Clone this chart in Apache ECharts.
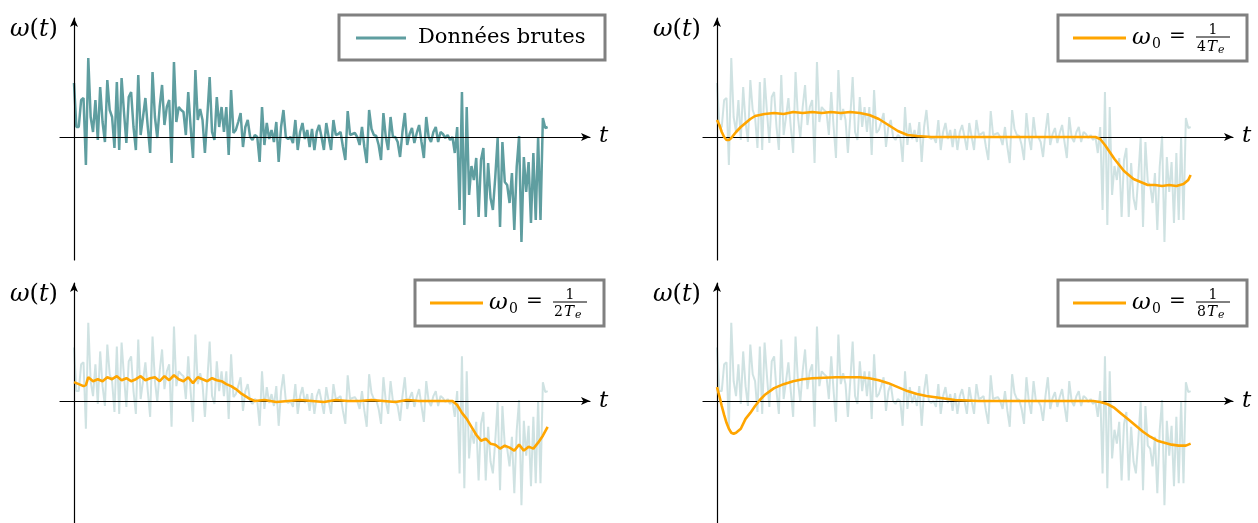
<!DOCTYPE html>
<html><head><meta charset="utf-8">
<script src="https://cdn.jsdelivr.net/npm/echarts@6/dist/echarts.min.js"></script>
<style>html,body{margin:0;padding:0;background:#fff}#c{width:1258px;height:523px}</style>
</head><body><div id="c"></div>
<script>
// raw angular velocity samples (arbitrary units), sample index 0..199
const rawOmega = [
 54, 10, 10, 37, 39, -28, 79, 20, 5, 37,
 -3, 50, 15, -5, 57, 27, 20, -11, 55, -13,
 59, 25, -6, 40, 45, 10, -13, 62, 2, 20,
 39, 10, -16, 65, 20, -1, 30, 52, 12, 30,
 37, -26, 75, 15, 30, 27, 25, 2, 45, 10,
 -21, 67, 17, 28, 17, -16, 20, 60, 5, -3,
 40, 10, 30, 5, 30, -18, 47, 4, 7, 15,
 24, -10, 10, 17, 0, -3, 2, 0, -25, 30,
 -8, 14, -2, 7, -5, 15, -25, 10, 27, 0,
 -2, 0, -6, 17, -13, 5, 14, -2, 7, -10,
 8, -13, 5, 12, 0, -13, 14, 0, -13, 17,
 2, 3, 5, -10, -23, 26, 2, 3, 4, 0,
 -8, 10, -10, -26, 27, 8, 2, 1, -8, -23,
 24, 0, -13, 20, 0, 0, -5, -20, 5, 24,
 -8, 3, 9, -6, 4, 12, -5, -21, 20, 0,
 -5, 5, 10, -5, 5, 3, -1, 2, -3, 0,
 -16, 10, -73, 45, -88, 30, -58, -29, -43, -21,
 -80, -23, -11, -80, -26, -61, -73, -40, -1, -90,
 -5, -45, -48, -66, -36, -93, -30, 1, -105, -20,
 -55, -25, -86, -16, -83, 0, -83, 19, 9, 10
];

// filtered, w0 = 1/(4Te)
const filt4T_t = [0,1,2,3,4,5,6,7,8,10,12,14,16,18,20,24,28,32,36,40,44,48,52,56,60,62,64,66,68,70,72,74,76,78,80,84,90,100,120,140,155,159,161,163,165,167,169,171,173,175,177,179,181,184,187,190,193,196,198,199];
const filt4T_v = [17,12,5,0,-3,-3,-1,2,5,10,14,18,21,22,23,24,23,25,24,25,24,25,24,25,24,23,22,20,18,15,12,9,6,4,2,1,0,0,0,0,0,0,-2,-8,-15,-22,-28,-34,-38,-42,-44,-46,-48,-48,-49,-48,-49,-47,-43,-38];

// filtered, w0 = 1/(2Te)
const filt2T_t = [0,2,4,5,6,8,10,12,14,16,18,20,22,24,26,28,30,32,34,36,38,40,42,44,46,48,50,52,54,56,58,60,62,64,66,68,70,72,74,76,80,85,90,95,100,105,110,115,120,125,130,135,140,145,150,155,159,161,163,165,167,169,171,173,175,177,179,181,183,185,187,189,191,193,195,197,199];
const filt2T_v = [19,17,15,16,24,20,22,20,24,22,25,21,23,20,22,25,21,23,24,20,25,21,26,22,20,24,18,24,22,20,23,21,20,17,15,12,8,5,2,0,1,-1,0,1,0,-1,1,0,0,1,0,-1,1,0,0,0,0,-4,-12,-18,-26,-34,-40,-38,-43,-44,-48,-45,-47,-50,-44,-50,-46,-48,-42,-35,-26];

// filtered, w0 = 1/(8Te)
const filt8T_t = [0,1,2,3,4,5,6,7,8,10,12,14,16,18,20,24,28,32,36,40,50,60,64,68,72,76,80,84,88,94,100,110,150,158,161,164,167,170,173,176,179,182,185,188,191,194,197,199];
const filt8T_v = [14,5,-5,-14,-22,-28,-32,-33,-32,-28,-18,-12,-5,1,6,13,17,20,22,23,24,24,23,21,18,14,10,7,5,3,1,0,0,0,-1,-3,-7,-13,-19,-25,-31,-36,-40,-42,-44,-45,-45,-43];

const legendLabels = ['Données brutes', '4', '2', '8'];

const pairs = (t, v) => t.map((x, i) => [x, v[i]]);
const rawPairs = rawOmega.map((v, i) => [i, v]);

const offsets = [[0,0],[643,0],[0,265],[643,265]];
const grids = [], xAxes = [], yAxes = [], series = [], graphics = [];
const serif = '"DejaVu Serif", "Liberation Serif", serif';
const filtered = [null, pairs(filt4T_t, filt4T_v), pairs(filt2T_t, filt2T_v), pairs(filt8T_t, filt8T_v)];

offsets.forEach(([dx, dy], k) => {
  grids.push({left: 60 + dx, top: 18 + dy, width: 530, height: 242});
  const axLine = {show: true, onZero: true, symbol: ['none', 'arrow'], symbolSize: [6, 9],
                  lineStyle: {color: '#000', width: 1.2}};
  xAxes.push({gridIndex: k, type: 'value', min: -5.88, max: 216.8, z: 2,
    axisLine: axLine, axisTick: {show: false}, axisLabel: {show: false}, splitLine: {show: false}});
  yAxes.push({gridIndex: k, type: 'value', min: -123, max: 119, z: 2,
    axisLine: axLine, axisTick: {show: false}, axisLabel: {show: false}, splitLine: {show: false}});
  if (k === 0) {
    series.push({type: 'line', xAxisIndex: k, yAxisIndex: k, data: rawPairs, symbol: 'none', z: 1,
      lineStyle: {color: '#5f9ea0', width: 2.5}, silent: true});
  } else {
    series.push({type: 'line', xAxisIndex: k, yAxisIndex: k, data: rawPairs, symbol: 'none', z: 1,
      lineStyle: {color: 'rgba(95,158,160,0.3)', width: 2}, silent: true});
    series.push({type: 'line', xAxisIndex: k, yAxisIndex: k, data: filtered[k], symbol: 'none', z: 3,
      lineStyle: {color: '#ffa500', width: 2.6}, silent: true});
  }
  // axis labels
  graphics.push({type: 'text', left: 10 + dx, top: 18 + dy, z: 10, style: {
    text: '{i|ω}{n|(}{i|t}{n|)}', rich: {
      i: {fontFamily: serif, fontStyle: 'italic', fontSize: 24, fill: '#000'},
      n: {fontFamily: serif, fontSize: 24, fill: '#000'}}}});
  graphics.push({type: 'text', left: 599 + dx, top: 125 + dy, z: 10, style: {
    text: 't', fontFamily: serif, fontStyle: 'italic', fontSize: 23, fill: '#000'}});
  // legends
  if (k === 0) {
    graphics.push({type: 'rect', z: 10, shape: {x: 339, y: 15, width: 266, height: 45},
      style: {fill: '#fff', stroke: '#808080', lineWidth: 3}});
    graphics.push({type: 'line', z: 11, shape: {x1: 356, y1: 38, x2: 406, y2: 38},
      style: {stroke: '#5f9ea0', lineWidth: 3}});
    graphics.push({type: 'text', z: 11, x: 418, y: 38, style: {text: legendLabels[0],
      fontFamily: serif, fontSize: 21, fill: '#000', verticalAlign: 'middle'}});
  } else {
    const bx = 1058 - 643 + dx, by = 15 + dy;
    graphics.push({type: 'rect', z: 10, shape: {x: bx, y: by, width: 189, height: 46},
      style: {fill: '#fff', stroke: '#808080', lineWidth: 3}});
    graphics.push({type: 'line', z: 11, shape: {x1: bx + 15, y1: by + 23, x2: bx + 68, y2: by + 23},
      style: {stroke: '#ffa500', lineWidth: 3}});
    graphics.push({type: 'text', z: 11, x: bx + 74, y: by + 23, style: {text: 'ω',
      fontFamily: serif, fontStyle: 'italic', fontSize: 23, fill: '#000', verticalAlign: 'middle'}});
    graphics.push({type: 'text', z: 11, x: bx + 94, y: by + 29, style: {text: '0',
      fontFamily: serif, fontSize: 14, fill: '#000', verticalAlign: 'middle'}});
    graphics.push({type: 'text', z: 11, x: bx + 111, y: by + 22, style: {text: '=',
      fontFamily: serif, fontSize: 20, fill: '#000', verticalAlign: 'middle'}});
    const fx = bx + 155;
    graphics.push({type: 'text', z: 11, x: fx, y: by + 15, style: {text: '1',
      fontFamily: serif, fontSize: 14, fill: '#000', align: 'center', verticalAlign: 'middle'}});
    graphics.push({type: 'line', z: 11, shape: {x1: fx - 17, y1: by + 22, x2: fx + 17, y2: by + 22},
      style: {stroke: '#000', lineWidth: 1}});
    graphics.push({type: 'text', z: 11, x: fx - 16, y: by + 32, style: {text: legendLabels[k],
      fontFamily: serif, fontSize: 14, fill: '#000', verticalAlign: 'middle'}});
    graphics.push({type: 'text', z: 11, x: fx - 6, y: by + 32, style: {text: 'T',
      fontFamily: serif, fontStyle: 'italic', fontSize: 15, fill: '#000', verticalAlign: 'middle'}});
    graphics.push({type: 'text', z: 11, x: fx + 5, y: by + 35, style: {text: 'e',
      fontFamily: serif, fontStyle: 'italic', fontSize: 11, fill: '#000', verticalAlign: 'middle'}});
  }
});

const chart = echarts.init(document.getElementById('c'));
chart.setOption({
  animation: false,
  backgroundColor: '#fff',
  grid: grids, xAxis: xAxes, yAxis: yAxes, series: series, graphic: graphics
});
</script></body></html>
